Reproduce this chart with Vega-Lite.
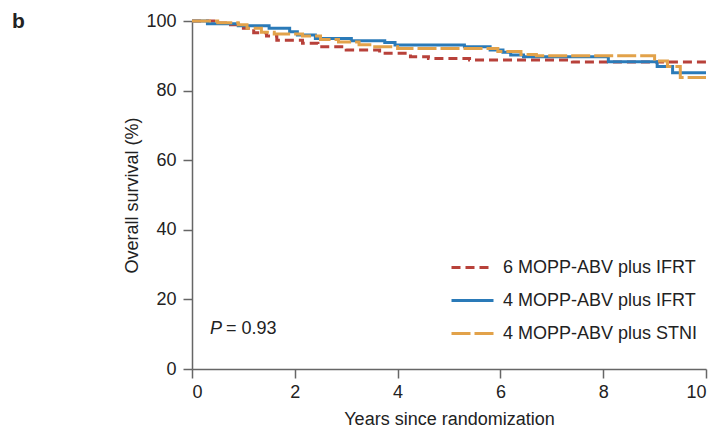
{
  "$schema": "https://vega.github.io/schema/vega-lite/v6.json",
  "width": 514,
  "height": 348,
  "autosize": {"type": "none"},
  "padding": {"left": 192, "top": 21, "right": 14, "bottom": 64},
  "background": "white",
  "title": {"text": "b", "anchor": "start", "frame": "group", "dx": -180, "offset": -8, "dy": 33, "baseline": "bottom", "fontSize": 21, "fontWeight": "bold", "color": "#222", "font": "Liberation Sans"},
  "config": {
    "view": {"stroke": null},
    "font": "Liberation Sans",
    "axis": {"grid": false, "labelFontSize": 18, "titleFontSize": 18, "titleFontWeight": "normal", "labelColor": "#222", "titleColor": "#222", "domainColor": "#666", "tickColor": "#666", "domainWidth": 1.5, "tickWidth": 1.5, "tickSize": 9, "labelFont": "Liberation Sans", "titleFont": "Liberation Sans"}
  },
  "layer": [
    {
      "data": {"values": [
        {"t": 0, "s": 100, "g": "6 MOPP-ABV plus IFRT"},
        {"t": 0.5, "s": 99.4, "g": "6 MOPP-ABV plus IFRT"},
        {"t": 0.75, "s": 98.9, "g": "6 MOPP-ABV plus IFRT"},
        {"t": 1.0, "s": 97.9, "g": "6 MOPP-ABV plus IFRT"},
        {"t": 1.2, "s": 96.6, "g": "6 MOPP-ABV plus IFRT"},
        {"t": 1.45, "s": 95.7, "g": "6 MOPP-ABV plus IFRT"},
        {"t": 1.65, "s": 94.5, "g": "6 MOPP-ABV plus IFRT"},
        {"t": 2.15, "s": 93.6, "g": "6 MOPP-ABV plus IFRT"},
        {"t": 2.45, "s": 92.6, "g": "6 MOPP-ABV plus IFRT"},
        {"t": 3.0, "s": 91.7, "g": "6 MOPP-ABV plus IFRT"},
        {"t": 3.65, "s": 90.7, "g": "6 MOPP-ABV plus IFRT"},
        {"t": 4.25, "s": 89.7, "g": "6 MOPP-ABV plus IFRT"},
        {"t": 4.6, "s": 89.2, "g": "6 MOPP-ABV plus IFRT"},
        {"t": 5.4, "s": 88.8, "g": "6 MOPP-ABV plus IFRT"},
        {"t": 7.4, "s": 88.2, "g": "6 MOPP-ABV plus IFRT"},
        {"t": 10, "s": 88.2, "g": "6 MOPP-ABV plus IFRT"},
        {"t": 0, "s": 100, "g": "4 MOPP-ABV plus IFRT"},
        {"t": 0.3, "s": 99.2, "g": "4 MOPP-ABV plus IFRT"},
        {"t": 0.9, "s": 98.6, "g": "4 MOPP-ABV plus IFRT"},
        {"t": 1.5, "s": 97.9, "g": "4 MOPP-ABV plus IFRT"},
        {"t": 1.9, "s": 96.9, "g": "4 MOPP-ABV plus IFRT"},
        {"t": 2.05, "s": 96.0, "g": "4 MOPP-ABV plus IFRT"},
        {"t": 2.4, "s": 95.0, "g": "4 MOPP-ABV plus IFRT"},
        {"t": 3.1, "s": 94.3, "g": "4 MOPP-ABV plus IFRT"},
        {"t": 3.75, "s": 93.8, "g": "4 MOPP-ABV plus IFRT"},
        {"t": 3.95, "s": 93.1, "g": "4 MOPP-ABV plus IFRT"},
        {"t": 5.3, "s": 92.6, "g": "4 MOPP-ABV plus IFRT"},
        {"t": 5.8, "s": 91.7, "g": "4 MOPP-ABV plus IFRT"},
        {"t": 6.05, "s": 91.0, "g": "4 MOPP-ABV plus IFRT"},
        {"t": 6.2, "s": 90.2, "g": "4 MOPP-ABV plus IFRT"},
        {"t": 6.45, "s": 89.7, "g": "4 MOPP-ABV plus IFRT"},
        {"t": 8.1, "s": 88.3, "g": "4 MOPP-ABV plus IFRT"},
        {"t": 9.05, "s": 86.9, "g": "4 MOPP-ABV plus IFRT"},
        {"t": 9.35, "s": 85.1, "g": "4 MOPP-ABV plus IFRT"},
        {"t": 10, "s": 85.1, "g": "4 MOPP-ABV plus IFRT"},
        {"t": 0, "s": 100, "g": "4 MOPP-ABV plus STNI"},
        {"t": 0.5, "s": 99.5, "g": "4 MOPP-ABV plus STNI"},
        {"t": 0.9, "s": 98.9, "g": "4 MOPP-ABV plus STNI"},
        {"t": 1.07, "s": 97.9, "g": "4 MOPP-ABV plus STNI"},
        {"t": 1.35, "s": 96.8, "g": "4 MOPP-ABV plus STNI"},
        {"t": 1.6, "s": 96.3, "g": "4 MOPP-ABV plus STNI"},
        {"t": 2.15, "s": 95.7, "g": "4 MOPP-ABV plus STNI"},
        {"t": 2.5, "s": 94.7, "g": "4 MOPP-ABV plus STNI"},
        {"t": 2.85, "s": 94.0, "g": "4 MOPP-ABV plus STNI"},
        {"t": 3.25, "s": 93.2, "g": "4 MOPP-ABV plus STNI"},
        {"t": 3.5, "s": 92.6, "g": "4 MOPP-ABV plus STNI"},
        {"t": 4.0, "s": 92.1, "g": "4 MOPP-ABV plus STNI"},
        {"t": 5.95, "s": 91.2, "g": "4 MOPP-ABV plus STNI"},
        {"t": 6.4, "s": 90.4, "g": "4 MOPP-ABV plus STNI"},
        {"t": 6.7, "s": 90.0, "g": "4 MOPP-ABV plus STNI"},
        {"t": 9.0, "s": 88.5, "g": "4 MOPP-ABV plus STNI"},
        {"t": 9.25, "s": 86.9, "g": "4 MOPP-ABV plus STNI"},
        {"t": 9.5, "s": 83.8, "g": "4 MOPP-ABV plus STNI"},
        {"t": 10, "s": 83.8, "g": "4 MOPP-ABV plus STNI"}
      ]},
      "mark": {"type": "line", "interpolate": "step-after", "strokeWidth": 3},
      "encoding": {
        "x": {"field": "t", "type": "quantitative", "scale": {"domain": [0, 10], "nice": false}, "axis": {"title": "Years since randomization", "values": [0, 2, 4, 6, 8, 10], "labelPadding": 5, "titlePadding": 9}},
        "y": {"field": "s", "type": "quantitative", "scale": {"domain": [0, 100], "nice": false}, "axis": {"title": "Overall survival (%)", "values": [0, 20, 40, 60, 80, 100], "labelPadding": 7, "titlePadding": 4}},
        "color": {"field": "g", "type": "nominal", "title": null,
          "scale": {"domain": ["6 MOPP-ABV plus IFRT", "4 MOPP-ABV plus IFRT", "4 MOPP-ABV plus STNI"], "range": ["#b8413a", "#2a7ab8", "#e2a24a"]},
          "legend": {"orient": "none", "legendX": 264, "legendY": 230, "symbolType": "M-1.4,0H1.4", "symbolSize": 900, "symbolStrokeWidth": 3, "labelFontSize": 18, "labelColor": "#222", "labelOffset": 14, "rowPadding": 7, "padding": 0, "labelLimit": 400}},
        "strokeDash": {"field": "g", "type": "nominal", "title": null,
          "scale": {"domain": ["6 MOPP-ABV plus IFRT", "4 MOPP-ABV plus IFRT", "4 MOPP-ABV plus STNI"], "range": [[9, 5], [1, 0], [19, 4]]}},
        "order": {"field": "t", "type": "quantitative"}
      }
    },
    {
      "data": {"values": [{"x": 0.35, "y": 11.6, "label": "P"}]},
      "mark": {"type": "text", "align": "left", "baseline": "middle", "fontSize": 18, "fontStyle": "italic", "color": "#222", "font": "Liberation Sans"},
      "encoding": {"x": {"field": "x", "type": "quantitative"}, "y": {"field": "y", "type": "quantitative"}, "text": {"field": "label"}}
    },
    {
      "data": {"values": [{"x": 0.66, "y": 11.6, "label": "= 0.93"}]},
      "mark": {"type": "text", "align": "left", "baseline": "middle", "fontSize": 18, "color": "#222", "font": "Liberation Sans"},
      "encoding": {"x": {"field": "x", "type": "quantitative"}, "y": {"field": "y", "type": "quantitative"}, "text": {"field": "label"}}
    }
  ]
}
